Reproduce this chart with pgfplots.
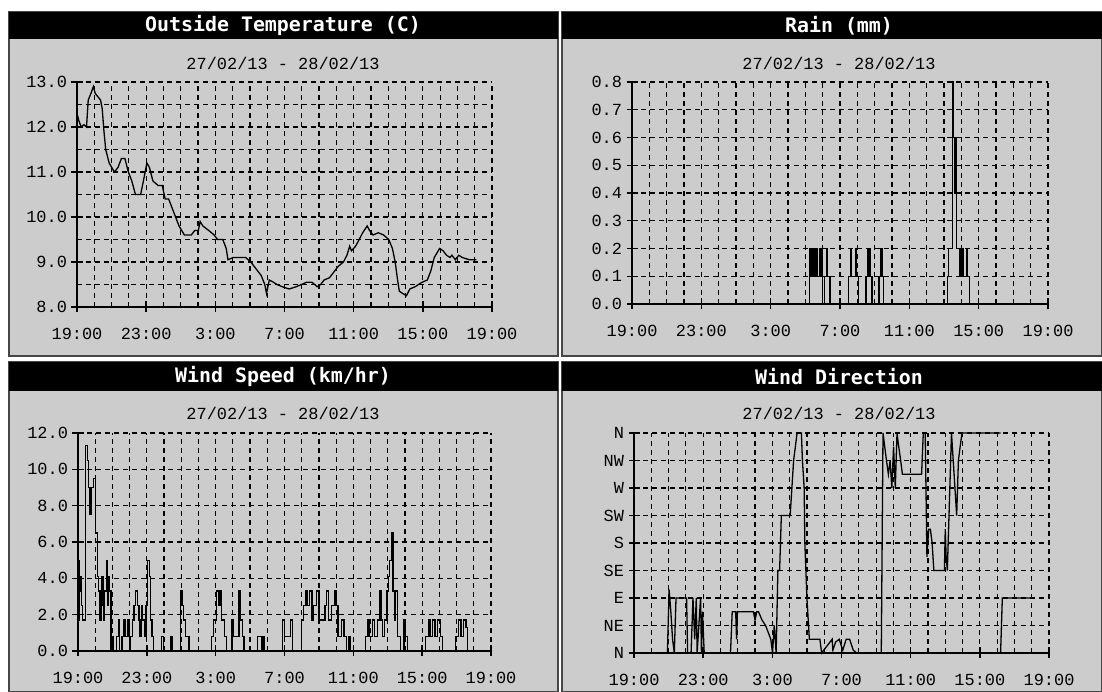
\documentclass[border=0pt]{standalone}
\usepackage{fontspec}
\setmainfont{Liberation Mono}
\newfontfamily\titlefont{DejaVu Sans Mono}
\usepackage{pgfplots}
\pgfplotsset{compat=1.18}
\definecolor{panelgray}{RGB}{204,204,204}
\definecolor{edgegray}{RGB}{70,70,70}

\pgfplotsset{
  wx/.style={
    scale only axis, anchor=south west,
    axis x line=bottom, axis y line=left,
    axis line style={-, line width=1.6bp, black},
    xmin=0, xmax=24,
    xtick={0,4,8,12,16,20,24},
    xticklabels={19:00,23:00,3:00,7:00,11:00,15:00,19:00},
    minor xtick={1,2,3,5,6,7,9,10,11,13,14,15,17,18,19,21,22,23},
    grid=both,
    major grid style={black, line width=1.2bp, dash pattern=on 5bp off 4bp},
    minor grid style={black, line width=1.2bp, dash pattern=on 5bp off 4bp},
    major tick length=11bp, minor tick length=0bp,
    tick align=center,
    tick style={black, line width=1.4bp},
    ticklabel style={font=\fontsize{17}{17}\selectfont, text=black},
    xticklabel style={yshift=-12bp},
    yticklabel style={xshift=-1bp},
    /pgf/number format/assume math mode=true,
    clip=false,
  },
  ln/.style={black, line width=1.3bp, mark=none},
}

\begin{document}
\begin{tikzpicture}[x=1bp,y=1bp]
\useasboundingbox (0,0) rectangle (1102,692);
\fill[white] (0,0) rectangle (1102,692);
% panels
\foreach \xa/\xb/\ya/\yb in {9/558/336/680, 562/1102/336/680, 9/558/0/330, 562/1102/0/330}{
  \fill[panelgray] (\xa,\ya) rectangle (\xb,\yb);
  \draw[edgegray, line width=1.5bp] (\xa,\ya) rectangle (\xb,\yb);
}
\fill[black] (9,653) rectangle (558,680);
\fill[black] (562,653) rectangle (1102,680);
\fill[black] (9,301) rectangle (558,330);
\fill[black] (562,301) rectangle (1102,330);
\node[text=white, font=\titlefont\bfseries\fontsize{20}{20}\selectfont] at (283,666.5) {Outside Temperature (C)};
\node[text=white, font=\titlefont\bfseries\fontsize{20}{20}\selectfont] at (839,666.5) {Rain (mm)};
\node[text=white, font=\titlefont\bfseries\fontsize{20}{20}\selectfont] at (283,315.5) {Wind Speed (km/hr)};
\node[text=white, font=\titlefont\bfseries\fontsize{20}{20}\selectfont] at (839,315.5) {Wind Direction};
\node[font=\fontsize{17}{17}\selectfont] at (283,629) {27/02/13 - 28/02/13};
\node[font=\fontsize{17}{17}\selectfont] at (839,629) {27/02/13 - 28/02/13};
\node[font=\fontsize{17}{17}\selectfont] at (283,279) {27/02/13 - 28/02/13};
\node[font=\fontsize{17}{17}\selectfont] at (839,279) {27/02/13 - 28/02/13};

% Temperature
\begin{axis}[wx, at={(77bp,385bp)}, width=415bp, height=225bp,
  ymin=8, ymax=13, ytick={8,9,10,11,12,13},
  minor ytick={8.5,9.5,10.5,11.5,12.5},
  yticklabel style={/pgf/number format/.cd, fixed, fixed zerofill, precision=1}]
\addplot[ln] coordinates {
(0,12.3)(0.1,12.15)(0.24,12.0)(0.4,12.05)(0.55,12.0)(0.65,12.6)(0.81,12.75)(0.95,12.9)
(1.05,12.75)(1.15,12.7)(1.36,12.6)(1.46,12.4)(1.56,11.9)(1.66,11.5)(1.86,11.2)(2.16,11.0)
(2.37,11.1)(2.57,11.3)(2.77,11.3)(2.97,11.0)(3.17,10.8)(3.38,10.5)(3.68,10.5)(3.84,10.8)
(4.04,11.2)(4.19,11.1)(4.39,10.8)(4.69,10.7)(4.93,10.7)(5.10,10.4)(5.30,10.4)(5.50,10.2)
(5.70,10.0)(5.90,9.8)(6.21,9.6)(6.61,9.6)(6.81,9.7)(7.02,9.7)(7.12,9.9)(7.28,9.8)
(7.62,9.7)(7.93,9.6)(8.13,9.5)(8.43,9.5)(8.63,9.3)(8.73,9.05)(9.04,9.1)(9.75,9.1)
(10.05,9.0)(10.35,8.85)(10.65,8.7)(10.86,8.5)(10.96,8.3)(11.12,8.6)(11.36,8.55)(11.56,8.5)
(11.87,8.45)(12.27,8.4)(12.68,8.45)(12.98,8.5)(13.28,8.55)(13.59,8.55)(13.89,8.45)(14.09,8.5)
(14.29,8.6)(14.60,8.65)(14.80,8.75)(15.10,8.9)(15.41,9.0)(15.61,9.15)(15.77,9.35)(15.87,9.25)
(16.11,9.35)(16.32,9.5)(16.52,9.65)(16.78,9.8)(16.92,9.7)(17.12,9.6)(17.43,9.65)(17.73,9.6)
(18.03,9.5)(18.24,9.3)(18.40,9.0)(18.54,8.6)(18.64,8.35)(18.84,8.3)(19.05,8.25)(19.25,8.4)
(19.55,8.45)(19.75,8.5)(19.96,8.55)(20.26,8.6)(20.46,8.8)(20.66,9.1)(20.97,9.3)(21.17,9.25)
(21.37,9.15)(21.57,9.1)(21.68,9.15)(21.88,9.05)(22.08,9.15)(22.28,9.1)(22.69,9.05)(23.09,9.05)
};
\end{axis}

% Rain
\begin{axis}[wx, at={(632bp,388bp)}, width=416bp, height=222bp,
  ymin=0, ymax=0.8, ytick={0,0.1,0.2,0.3,0.4,0.5,0.6,0.7,0.8},
  yticklabel style={/pgf/number format/.cd, fixed, fixed zerofill, precision=1}]
\addplot[ln, const plot] coordinates {
(0,0)(10.15,0)(10.22,0.2)(10.27,0.1)(10.32,0.2)(10.37,0.1)(10.42,0.2)(10.47,0.1)(10.52,0.2)
(10.57,0.1)(10.62,0.2)(10.67,0.1)(10.80,0.2)(10.85,0.1)(10.92,0.2)(10.97,0)(11.1,0.1)
(11.22,0.2)(11.27,0.1)(11.42,0)(12.5,0.1)(12.63,0.2)(12.68,0.1)(12.88,0.2)(12.93,0.1)
(13.05,0)(13.5,0.1)(13.6,0.2)(13.65,0.1)(13.72,0.2)(13.77,0.1)(13.85,0)(14.25,0.1)
(14.35,0.2)(14.42,0.1)(14.52,0)(18.2,0.1)(18.25,0.2)(18.48,0.8)(18.52,0.6)(18.62,0.4)
(18.68,0.6)(18.72,0.2)(18.9,0.1)(18.95,0.2)(19.0,0.1)(19.05,0.2)(19.1,0.1)(19.3,0.2)
(19.35,0.1)(19.45,0)(24,0)
};
\end{axis}

% Wind speed
\begin{axis}[wx, at={(78bp,41bp)}, width=413bp, height=218bp,
  ymin=0, ymax=12, ytick={0,2,4,6,8,10,12},
  yticklabel style={/pgf/number format/.cd, fixed, fixed zerofill, precision=1}]
\addplot[ln, const plot] coordinates {
(0.00,1.7)(0.05,5.0)(0.1,3.3)(0.15,4.1)(0.2,2.5)(0.27,1.7)(0.45,11.3)(0.55,10.5)
(0.62,9.0)(0.7,7.5)(0.8,9.0)(0.92,9.5)(1.0,6.5)(1.12,4.1)(1.2,3.3)(1.27,1.7)
(1.33,2.5)(1.4,4.1)(1.47,1.7)(1.55,3.3)(1.65,5.0)(1.72,2.5)(1.78,4.1)(1.85,3.3)
(1.92,0)(1.98,0.8)(2.08,0)(2.25,0.8)(2.35,1.7)(2.42,0)(2.55,0.8)(2.68,1.7)
(2.75,0.8)(2.9,1.7)(2.98,0)(3.05,0.8)(3.15,1.7)(3.25,2.5)(3.35,3.3)(3.45,2.5)
(3.55,1.7)(3.6,0.8)(3.7,2.5)(3.75,1.7)(3.85,0.8)(3.95,2.5)(4.05,5.0)(4.15,4.1)
(4.22,1.7)(4.3,0.8)(4.4,0)(4.85,0.8)(4.97,0)(5.4,0.8)(5.5,0)(5.95,3.3)
(6.05,2.5)(6.12,1.7)(6.25,0.8)(6.45,0)(7.75,0.8)(7.87,1.7)(8.05,3.3)(8.15,2.5)
(8.25,3.3)(8.35,1.7)(8.5,0.8)(8.62,0)(8.95,1.7)(9.05,0.8)(9.35,3.3)(9.45,1.7)
(9.55,0.8)(9.65,0)(10.45,0.8)(10.65,0)(10.75,0.8)(10.85,0)(11.9,1.7)(12.0,0.8)
(12.35,1.7)(12.45,0)(13.0,1.7)(13.1,2.5)(13.25,3.3)(13.35,2.5)(13.45,3.3)(13.6,1.7)
(13.7,2.5)(13.85,3.3)(14.0,1.7)(14.35,2.5)(14.45,3.3)(14.55,1.7)(14.75,2.5)(14.9,3.3)
(15.0,2.5)(15.1,0.8)(15.3,1.7)(15.45,0.8)(15.6,0)(15.75,0.8)(15.85,0)(16.7,0.8)
(16.85,1.7)(16.95,0.8)(17.1,1.7)(17.25,0.8)(17.4,1.7)(17.5,3.3)(17.6,1.7)(17.7,0.8)
(17.8,1.7)(17.95,3.3)(18.05,4.1)(18.12,5.0)(18.2,6.5)(18.3,3.3)(18.4,1.7)(18.45,3.3)
(18.55,0.8)(18.75,0)(18.95,1.7)(19.05,0.8)(19.15,0)(20.2,0.8)(20.35,1.7)(20.45,0.8)
(20.6,1.7)(20.75,0.8)(20.9,1.7)(21.05,0.8)(21.2,0)(21.95,0.8)(22.1,1.7)(22.25,0.8)
(22.4,1.7)(22.55,1.3)(22.65,0)(23.1,0)
};
\end{axis}

% Wind direction
\begin{axis}[wx, at={(634bp,39bp)}, width=415bp, height=220bp,
  ymin=0, ymax=8, ytick={0,1,2,3,4,5,6,7,8},
  yticklabels={N,NE,E,SE,S,SW,W,NW,N}]
\addplot[ln, sharp plot] coordinates {
(0,0)(1.93,0)(2.03,2.3)(2.13,1.5)(2.23,0.5)(2.33,0)(2.43,2)(3.04,2)(3.10,0)(3.3,0)
(3.41,2)(3.51,0.5)(3.6,2)(3.65,0)(3.75,1)(3.85,2)(3.9,0)(3.96,1.5)(4.06,0)(5.58,0)
(5.68,1.5)(5.88,1.5)(5.93,0.5)(5.98,1.5)(6.9,1.5)(7.0,1.2)(7.1,1.5)(7.2,1.5)(7.4,1.2)
(7.61,1.0)(7.91,0.5)(8.01,0)(8.11,1.0)(8.22,0)(8.32,3.0)(8.42,3)(8.52,5)(9.03,5)
(9.13,6)(9.23,7)(9.33,7.5)(9.43,8)(9.68,8)(9.74,7)(9.84,6)(9.88,4)(10.0,2)(10.14,0.5)
(10.75,0.5)(10.85,0.0)(11.46,0.5)(11.5,0.1)(11.66,0.4)(11.87,0.5)(12.07,0.1)(12.27,0.5)
(12.47,0.5)(12.68,0.1)(12.88,0)(14.30,0)(14.40,8)(14.60,7)(14.71,6.5)(14.81,7)(14.91,6)
(15.01,7.5)(15.11,6)(15.21,8)(15.31,7.5)(15.42,7)(15.52,6.5)(16.63,6.5)(16.73,8)(16.84,8)
(16.94,3.5)(17.04,4.5)(17.14,4.5)(17.24,4)(17.34,3)(17.95,3)(18.0,4.5)(18.05,3.5)(18.12,3)
(18.36,8)(18.46,7)(18.56,6)(18.66,5)(18.76,7)(18.86,7.5)(18.97,8)(21.2,8)
};
\addplot[ln, sharp plot] coordinates {
(21.2,0)(21.25,1)(21.3,2)(23.12,2)
};
\end{axis}
\end{tikzpicture}
\end{document}
